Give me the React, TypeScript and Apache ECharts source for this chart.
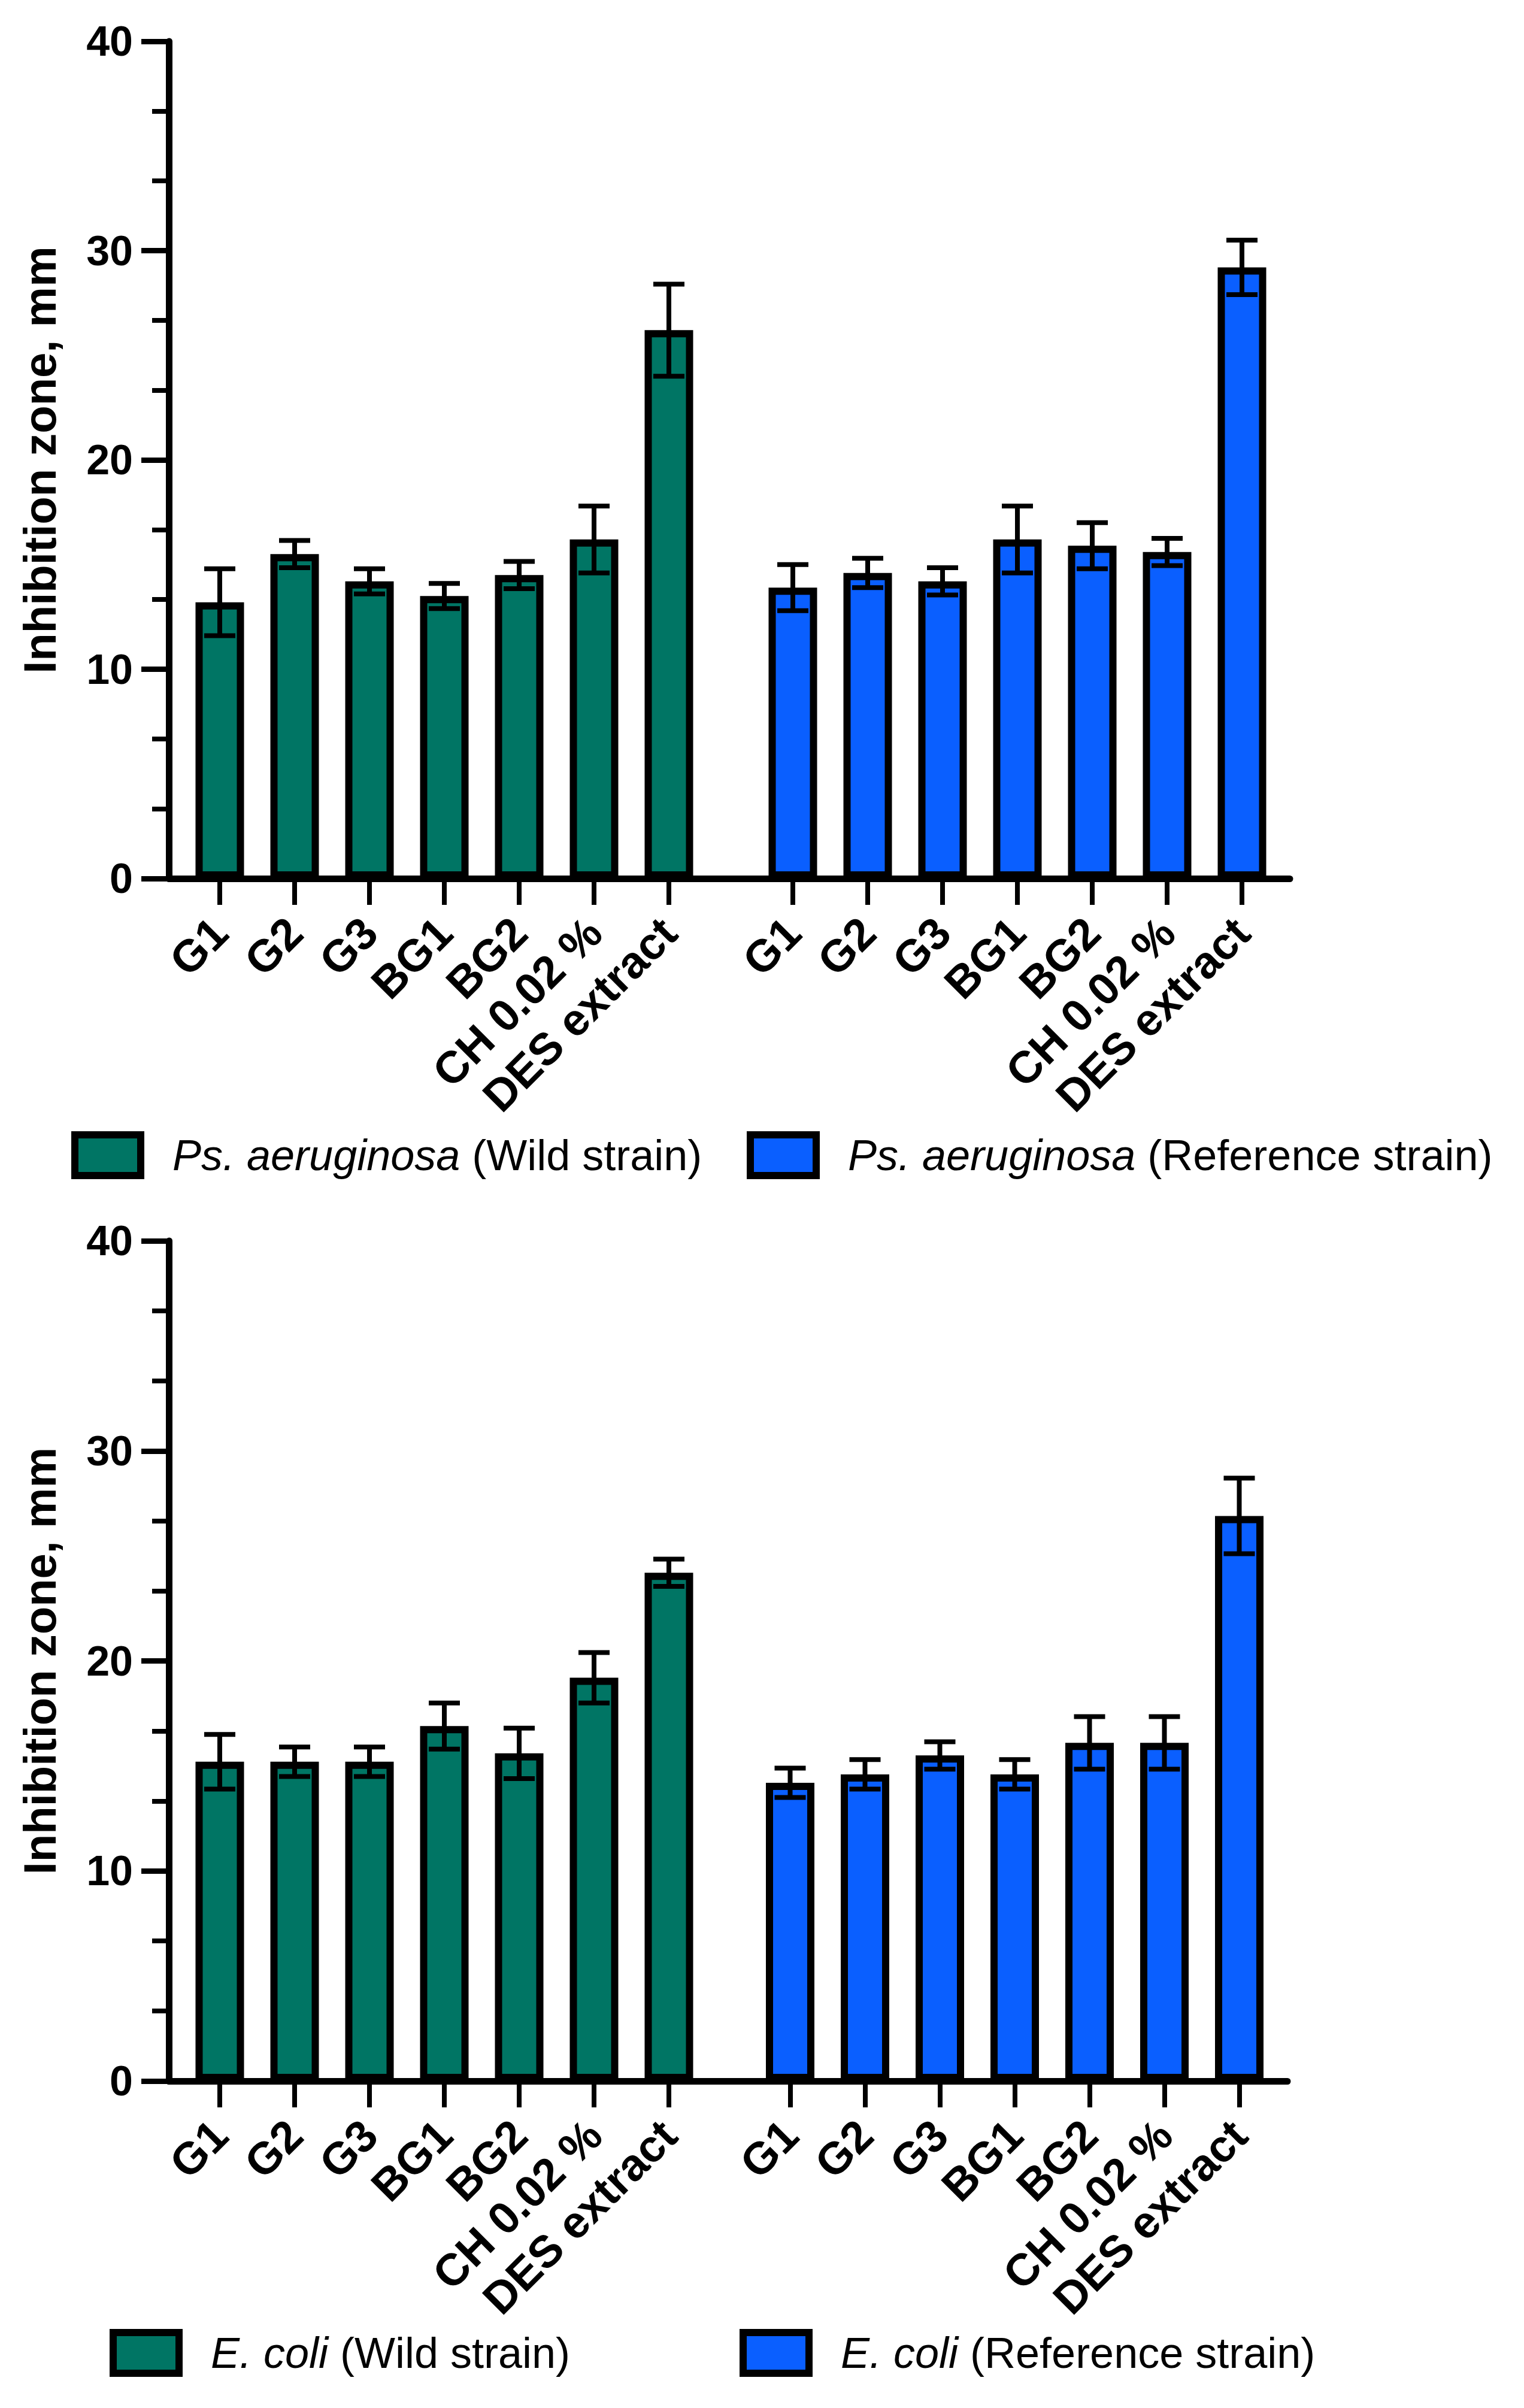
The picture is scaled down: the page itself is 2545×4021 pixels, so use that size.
import { useEffect, useRef } from 'react';
import * as echarts from 'echarts';

const categories = ['G1', 'G2', 'G3', 'BG1', 'BG2', 'CH 0.02 %', 'DES extract'];

const species = ['Ps. aeruginosa', 'E. coli'];
const strains = ['(Wild strain)', '(Reference strain)'];

const psWildMean = [13.2, 15.5, 14.2, 13.5, 14.5, 16.2, 26.2];
const psWildErr = [1.6, 0.65, 0.6, 0.6, 0.65, 1.6, 2.2];
const psRefMean = [13.9, 14.6, 14.2, 16.2, 15.9, 15.6, 29.2];
const psRefErr = [1.1, 0.7, 0.65, 1.6, 1.1, 0.65, 1.3];

const ecWildMean = [15.2, 15.2, 15.2, 16.9, 15.6, 19.2, 24.2];
const ecWildErr = [1.3, 0.7, 0.7, 1.1, 1.2, 1.2, 0.65];
const ecRefMean = [14.2, 14.6, 15.5, 14.6, 16.1, 16.1, 26.9];
const ecRefErr = [0.7, 0.7, 0.65, 0.7, 1.25, 1.25, 1.8];

const yMin = 0;
const yMax = 40;
const yStep = 10;

const GREEN = '#007564';
const BLUE = '#0a5fff';
const FONT = '"Liberation Sans", Arial, Helvetica, sans-serif';

export default function App() {
  const chartRef = useRef<HTMLDivElement>(null);

  useEffect(() => {
    if (!chartRef.current) return;
    const myChart = echarts.init(chartRef.current, undefined, { renderer: 'svg' });

    // two panels, each: one frame grid (y axis + full x line), two bar grids
    const panels = [
      { top: 69, height: 1398, left: 282, right: 2154, wildLeft: 304.5, refLeft: 1261.5, legendTop: 1884, legendLeft: [114, 1242],
        sp: species[0], wild: [psWildMean, psWildErr], ref: [psRefMean, psRefErr] },
      { top: 2072, height: 1403, left: 282, right: 2150, wildLeft: 304.5, refLeft: 1257, legendTop: 3884, legendLeft: [178, 1230],
        sp: species[1], wild: [ecWildMean, ecWildErr], ref: [ecRefMean, ecRefErr] }
    ];
    const band = 125;

    const grid: any[] = [];
    const xAxis: any[] = [];
    const yAxis: any[] = [];
    const series: any[] = [];
    const legend: any[] = [];

    const errorRender = (params: any, api: any) => {
      const x = api.value(0);
      const m = api.value(1);
      const e = api.value(2);
      const t = api.coord([x, m + e]);
      const b = api.coord([x, m - e]);
      const half = 26;
      const st = { stroke: '#000', lineWidth: 8 };
      return {
        type: 'group',
        children: [
          { type: 'line', shape: { x1: t[0], y1: t[1], x2: b[0], y2: b[1] }, style: st },
          { type: 'line', shape: { x1: t[0] - half, y1: t[1], x2: t[0] + half, y2: t[1] }, style: st },
          { type: 'line', shape: { x1: b[0] - half, y1: b[1], x2: b[0] + half, y2: b[1] }, style: st }
        ]
      };
    };

    panels.forEach((p) => {
      const g0 = grid.length;
      grid.push({ left: p.left, top: p.top, width: p.right - p.left, height: p.height });
      grid.push({ left: p.wildLeft, top: p.top, width: band * 7, height: p.height });
      grid.push({ left: p.refLeft, top: p.top, width: band * 7, height: p.height });

      xAxis.push({
        gridIndex: g0, type: 'value', min: 0, max: 1,
        axisLine: { show: true, lineStyle: { color: '#000', width: 11 } },
        axisTick: { show: false }, axisLabel: { show: false }, splitLine: { show: false }
      });
      yAxis.push({
        gridIndex: g0, type: 'value', min: yMin, max: yMax, interval: yStep,
        name: 'Inhibition zone, mm', nameLocation: 'middle', nameGap: 178,
        nameTextStyle: { fontSize: 76, fontWeight: 'bold', fontFamily: FONT, color: '#000' },
        axisLine: { show: true, lineStyle: { color: '#000', width: 11 } },
        axisTick: { show: true, length: 46, lineStyle: { color: '#000', width: 9 } },
        minorTick: { show: true, splitNumber: 3, length: 28, lineStyle: { color: '#000', width: 8 } },
        axisLabel: { fontSize: 70, fontWeight: 'bold', fontFamily: FONT, color: '#000', margin: 60 },
        splitLine: { show: false }
      });

      [1, 2].forEach((k) => {
        xAxis.push({
          gridIndex: g0 + k, type: 'category', data: categories,
          axisLine: { show: false },
          axisTick: { show: true, alignWithLabel: true, length: 44, lineStyle: { color: '#000', width: 8 } },
          axisLabel: { interval: 0, rotate: 45, margin: 78, fontSize: 75, fontWeight: 'bold', fontFamily: FONT, color: '#000' }
        });
        yAxis.push({ gridIndex: g0 + k, type: 'value', min: yMin, max: yMax, show: false });
      });

      [p.wild, p.ref].forEach((d, k) => {
        const name = `${p.sp} ${strains[k]}`;
        const color = k === 0 ? GREEN : BLUE;
        series.push({
          type: 'bar', name, xAxisIndex: g0 + 1 + k, yAxisIndex: g0 + 1 + k,
          data: d[0], barWidth: 81,
          itemStyle: { color, borderColor: '#000', borderWidth: 12 }
        });
        series.push({
          type: 'custom', xAxisIndex: g0 + 1 + k, yAxisIndex: g0 + 1 + k, z: 5,
          data: d[0].map((m: number, i: number) => [i, m, d[1][i]]),
          encode: { x: 0, y: 1 },
          renderItem: errorRender
        });
        legend.push({
          data: [name], left: p.legendLeft[k], top: p.legendTop,
          icon: 'rect', itemWidth: 110, itemHeight: 68,
          itemStyle: { borderColor: '#000', borderWidth: 12 },
          formatter: () => `{i|${p.sp}} ${strains[k]}`,
          textStyle: {
            fontSize: 72, fontFamily: FONT, color: '#000', padding: [0, 0, 0, 48],
            rich: { i: { fontSize: 72, fontFamily: FONT, fontStyle: 'italic', color: '#000' } }
          }
        });
      });
    });

    const option = {
      animation: false,
      backgroundColor: '#fff',
      grid, xAxis, yAxis, series, legend
    };

    myChart.setOption(option);

    const handleResize = () => myChart.resize();
    window.addEventListener('resize', handleResize);

    return () => {
      window.removeEventListener('resize', handleResize);
      myChart.dispose();
    };
  }, []);

  return (
    <div
      ref={chartRef}
      style={{ position: 'absolute', left: 0, top: 0, width: 2545, height: 4021 }}
    />
  );
}
